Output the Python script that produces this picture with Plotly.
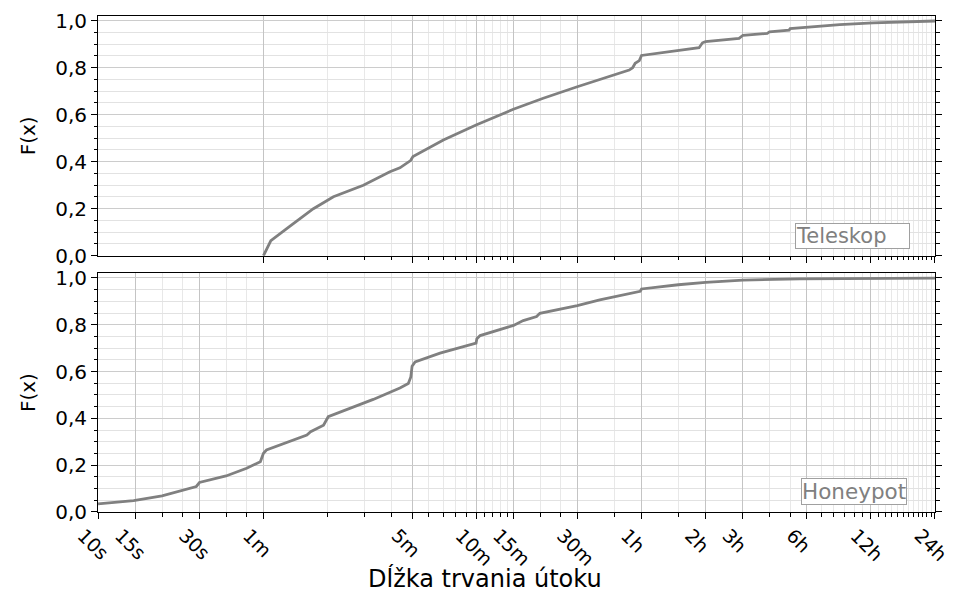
import math
import plotly.graph_objects as go

# ---- data ----
tele_t = [60, 61.5, 63, 65, 80, 103, 128, 177, 236, 263, 295, 303, 421, 600, 898, 1242, 1795,
          3150, 3270, 3360, 3515, 3600, 6714, 6966, 7200, 10350, 10800, 14060, 14400, 17800, 18000,
          21600, 30800, 44200, 86400]
tele_F = [0.0, 0.02, 0.045, 0.064, 0.126, 0.2, 0.251, 0.30, 0.357, 0.374, 0.405, 0.422, 0.492, 0.556,
          0.623, 0.67, 0.719, 0.79, 0.80, 0.819, 0.83, 0.852, 0.885, 0.906, 0.911, 0.925, 0.938, 0.946,
          0.953, 0.960, 0.966, 0.972, 0.983, 0.991, 0.9987]

honey_t = [10, 14.7, 20, 26, 29, 30, 40, 50, 58, 60, 62, 96, 100, 115, 121, 197, 263, 288, 296, 300,
           310, 406, 593, 600, 605, 627, 900, 1000, 1156, 1197, 1795, 2290, 3549, 3600, 5360, 7200,
           10800, 20000, 86400]
honey_F = [0.035, 0.049, 0.069, 0.095, 0.109, 0.126, 0.154, 0.187, 0.215, 0.251, 0.265, 0.329, 0.343,
           0.371, 0.407, 0.481, 0.53, 0.549, 0.577, 0.623, 0.641, 0.679, 0.719, 0.722, 0.740, 0.754,
           0.797, 0.818, 0.835, 0.849, 0.882, 0.906, 0.943, 0.953, 0.971, 0.981, 0.991, 0.996, 0.999]

major_secs = [10, 15, 30, 60, 300, 600, 900, 1800, 3600, 7200, 10800, 21600, 43200, 86400]
major_labels = ["10s", "15s", "30s", "1m", "5m", "10m", "15m", "30m", "1h", "2h", "3h", "6h", "12h", "24h"]
minor_secs = [20, 25, 40, 50, 120, 180, 240, 360, 420, 480, 540, 660, 720, 780, 840, 1200, 1500,
              2700, 5400, 14400, 18000, 25200, 28800, 32400, 36000, 39600,
              46800, 50400, 54000, 57600, 61200, 64800, 68400, 72000, 75600, 79200, 82800]

y_ticks = [0, 0.2, 0.4, 0.6, 0.8, 1.0]
y_labels = ["0,0", "0,2", "0,4", "0,6", "0,8", "1,0"]
y_minor = [0.05, 0.1, 0.15, 0.25, 0.3, 0.35, 0.45, 0.5, 0.55, 0.65, 0.7, 0.75, 0.85, 0.9, 0.95]

LINE = "#808080"
FONT = "DejaVu Sans"

fig = go.Figure()
fig.add_trace(go.Scatter(x=tele_t, y=tele_F, mode="lines", line=dict(color=LINE, width=2.8),
                         xaxis="x", yaxis="y", showlegend=False))
fig.add_trace(go.Scatter(x=honey_t, y=honey_F, mode="lines", line=dict(color=LINE, width=2.8),
                         xaxis="x2", yaxis="y2", showlegend=False))

xr = [1 - 1e-4, math.log10(86400) + 1e-4]


def xaxis(top):
    mv = [v for v in major_secs if (not top or v >= 60)]
    ml = [major_labels[major_secs.index(v)] for v in mv]
    nv = [v for v in minor_secs if (not top or v >= 60)]
    d = dict(type="log", range=xr, tickmode="array", tickvals=mv, ticktext=ml,
             ticks="outside", ticklen=6, tickwidth=1, tickcolor="black",
             showgrid=True, gridcolor="#c4c4c4", gridwidth=1,
             minor=dict(tickmode="array", tickvals=nv, ticks="outside", ticklen=3.5,
                        tickwidth=1, tickcolor="black", showgrid=True, gridcolor="#e8e8e8", gridwidth=1),
             showline=True, linecolor="black", linewidth=1, mirror=True, zeroline=False,
             tickfont=dict(family=FONT, size=19, color="black"), automargin=False,
             ticklabeloverflow="allow")
    if top:
        d.update(showticklabels=False, anchor="y", domain=[0, 1], matches="x2")
    else:
        d.update(tickangle=45, anchor="y2", domain=[0, 1], ticklabelshift=-15, ticklabelstandoff=-2)
    return d


def yaxis(dom, anchor):
    return dict(domain=dom, anchor=anchor, range=[0, 1.02], tickmode="array", tickvals=y_ticks,
                ticktext=y_labels, ticks="outside", ticklen=6, tickwidth=1, tickcolor="black",
                showgrid=True, gridcolor="#cccccc", gridwidth=1,
                minor=dict(tickmode="array", tickvals=y_minor, ticks="outside", ticklen=3.5,
                           tickwidth=1, tickcolor="black", showgrid=True, gridcolor="#e2e2e2", gridwidth=1),
                showline=True, linecolor="black", linewidth=1, mirror="ticks", zeroline=False,
                tickfont=dict(family=FONT, size=20, color="black"), automargin=False,
                title=dict(text="F(x)", font=dict(family=FONT, size=20, color="black"), standoff=14))


# page body has an 8px default margin, so the figure is sized to fit the window from there
fig.update_layout(
    width=948, height=591,
    margin=dict(l=90, r=21, t=8, b=87),
    paper_bgcolor="white", plot_bgcolor="white",
    font=dict(family=FONT, size=20, color="black"),
    xaxis=xaxis(True),
    xaxis2=xaxis(False),
    yaxis=yaxis([0.5167, 1.0], "x"),
    yaxis2=yaxis([0.0, 0.4813], "x2"),
    annotations=[
        dict(text="Teleskop", xref="x domain", yref="y domain", x=0.9698, y=0.028,
             xanchor="right", yanchor="bottom", showarrow=False, width=113, align="left",
             font=dict(family=FONT, size=21, color=LINE), bordercolor="#a0a0a0", borderwidth=1,
             borderpad=0, bgcolor="white"),
        dict(text="Honeypot", xref="x2 domain", yref="y2 domain", x=0.9665, y=0.0276,
             xanchor="right", yanchor="bottom", showarrow=False,
             font=dict(family=FONT, size=21.5, color=LINE), bordercolor="#a0a0a0", borderwidth=1,
             borderpad=0, bgcolor="white"),
        dict(text="Dĺžka trvania útoku", xref="paper", yref="paper", x=0.462, y=-0.134,
             xanchor="center", yanchor="middle", showarrow=False,
             font=dict(family=FONT, size=24, color="black")),
    ],
)

fig.write_html("out.html")
